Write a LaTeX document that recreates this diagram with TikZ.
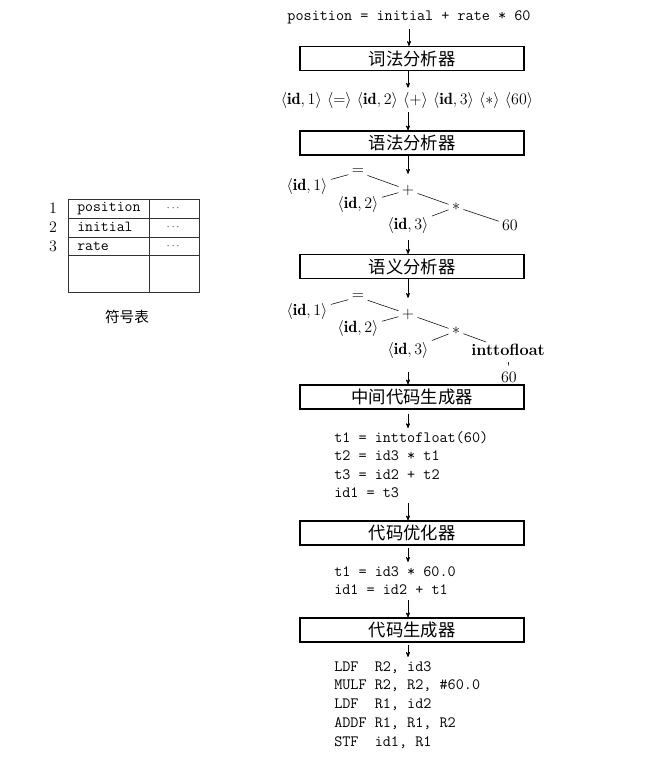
\documentclass[tikz,border=0pt]{standalone}
\usepackage{fontspec}
\usepackage{amsmath}
\newfontfamily\cjk{Noto Sans CJK SC}
\usetikzlibrary{shapes,arrows,positioning,calc}

\begin{document}
\begin{tikzpicture}[x=0.75pt, y=-0.75pt,
  stagebox/.style={draw, line width=0.8pt, minimum width=168pt, minimum height=18pt, inner sep=0pt, font=\cjk\fontsize{13}{15}\selectfont},
  flow/.style={->, >=stealth', thin},
  leaf/.style={inner sep=1pt, font=\fontsize{12.2}{14}\selectfont},
  branch/.style={thin, shorten <=1.5pt, shorten >=1.5pt},
  irline/.style={anchor=base west, inner sep=0pt, font=\ttfamily\fontsize{11.8}{14}\selectfont}]

\useasboundingbox (0,0) rectangle (650,771);
\coordinate (spine) at (408,0);

% Source statement and lexer
\node[irline, anchor=base] (src) at (409,21) {position = initial + rate * 60};
\node[stagebox] (lex) at (412,58.5) {词法分析器};
\node[leaf] (tok) at (407,100) {$\langle\mathbf{id},1\rangle$ $\langle=\rangle$ $\langle\mathbf{id},2\rangle$ $\langle+\rangle$ $\langle\mathbf{id},3\rangle$ $\langle*\rangle$ $\langle60\rangle$};
\node[stagebox] (syn) at (412,143) {语法分析器};

% Syntax tree
\node[leaf] (eqA) at (358,172) {$=$};
\node[leaf] (idA1) at (307,186) {$\langle\mathbf{id},1\rangle$};
\node[leaf] (plusA) at (408,190) {$+$};
\node[leaf] (idA2) at (358,204) {$\langle\mathbf{id},2\rangle$};
\node[leaf] (mulA) at (456,207) {$*$};
\node[leaf] (idA3) at (408,225) {$\langle\mathbf{id},3\rangle$};
\node[leaf] (numA) at (510,225) {$60$};
\foreach \a/\b in {eqA/idA1, eqA/plusA, plusA/idA2, plusA/mulA, mulA/idA3, mulA/numA}
  \draw[branch] (\a) -- (\b);

\node[stagebox] (sem) at (412,266.5) {语义分析器};

% Tree after type conversion
\node[leaf] (eqB) at (358,297) {$=$};
\node[leaf] (idB1) at (307,311) {$\langle\mathbf{id},1\rangle$};
\node[leaf] (plusB) at (408,314) {$+$};
\node[leaf] (idB2) at (358,328) {$\langle\mathbf{id},2\rangle$};
\node[leaf] (mulB) at (456,331) {$*$};
\node[leaf] (idB3) at (408,350) {$\langle\mathbf{id},3\rangle$};
\node[leaf] (itofB) at (508,350) {\textbf{inttofloat}};
\node[leaf] (numB) at (509,377) {$60$};
\foreach \a/\b in {eqB/idB1, eqB/plusB, plusB/idB2, plusB/mulB, mulB/idB3, mulB/itofB}
  \draw[branch] (\a) -- (\b);
\draw[thin, shorten <=3.5pt, shorten >=3.5pt] (itofB) -- (numB);

% Intermediate code, optimizer, generator
\node[stagebox] (icg) at (412,397) {中间代码生成器};
\foreach \t [count=\k] in {t1 = inttofloat(60), t2 = id3 * t1, t3 = id2 + t2, id1 = t3}
  \node[irline] (ir\k) at (334,423.5+\k*18.5) {\t};
\node[stagebox] (opt) at (412,533) {代码优化器};
\foreach \t [count=\k] in {t1 = id3 * 60.0, id1 = id2 + t1}
  \node[irline] (optir\k) at (334,557.5+\k*18.5) {\t};
\node[stagebox] (gen) at (412,630) {代码生成器};
\foreach \t [count=\k] in {{LDF\ \ R2, id3}, {MULF R2, R2, \#60.0}, {LDF\ \ R1, id2}, {ADDF R1, R1, R2}, {STF\ \ id1, R1}}
  \node[irline] (asm\k) at (334,652.25+\k*18.75) {\t};

% Arrows down the spine
\draw[flow, shorten <=3pt] (src) -- (src |- lex.north);
\draw[flow, shorten >=2pt] (lex.south -| spine) -- (tok.north -| spine);
\draw[flow, shorten <=2pt] (tok.south -| spine) -- (syn.north -| spine);
\draw[flow, shorten >=7pt] (syn.south -| spine) -- (plusA.north);
\draw[flow, shorten <=4pt] (idA3) -- (idA3 |- sem.north);
\draw[flow, shorten >=7pt] (sem.south -| spine) -- (plusB.north);
\draw[flow, shorten <=9pt] (idB3) -- (idB3 |- icg.north);
\draw[flow, shorten <=3pt, shorten >=2pt] (icg.south -| spine) -- (ir1.north -| spine);
\draw[flow, shorten <=4pt] (ir4.south -| spine) -- (opt.north -| spine);
\draw[flow, shorten <=2pt, shorten >=3pt] (opt.south -| spine) -- (optir1.north -| spine);
\draw[flow, shorten <=4pt] (optir2.south -| spine) -- (gen.north -| spine);
\draw[flow, shorten <=2pt, shorten >=3pt] (gen.south -| spine) -- (asm1.north -| spine);

% Symbol table
\draw[line width=0.6pt, black!80] (68,199) rectangle (199,292);
\foreach \y in {218,237,255}
  \draw[line width=0.6pt, black!80] (68,\y) -- (199,\y);
\draw[line width=0.6pt, black!80] (149,199) -- (149,292);
\foreach \i/\nm in {1/position, 2/initial, 3/rate} {
  \pgfmathsetmacro{\y}{189.5 + \i*18.8}
  \node[anchor=west, inner sep=0pt, font=\ttfamily\fontsize{11.5}{13}\selectfont] (sym\i) at (77,\y) {\nm};
  \node[inner sep=0pt, font=\scriptsize] (dots\i) at (174,\y) {$\cdots$};
  \node[inner sep=0pt, font=\fontsize{12}{14}\selectfont] (num\i) at (53,\y) {\i};
}
\node[font=\cjk\fontsize{11}{13}\selectfont] (symcap) at (127,317) {符号表};

\end{tikzpicture}
\end{document}
